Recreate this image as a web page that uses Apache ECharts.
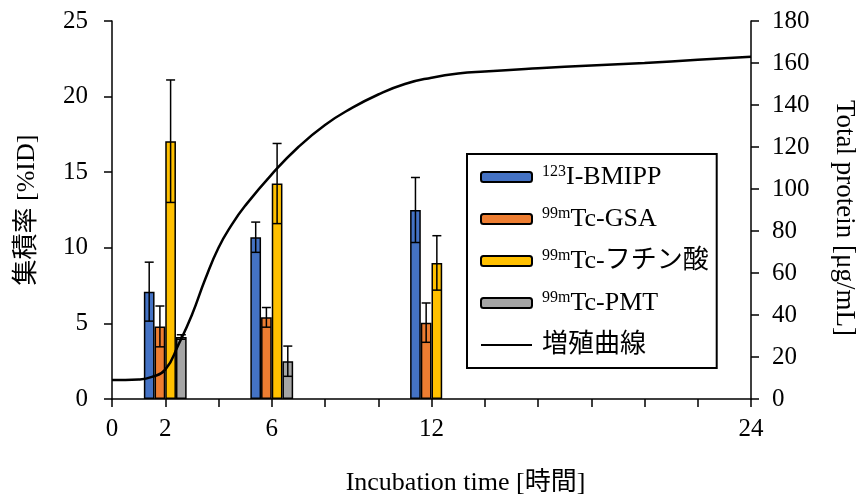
<!DOCTYPE html>
<html>
<head>
<meta charset="utf-8">
<script src="https://cdn.jsdelivr.net/npm/echarts@6/dist/echarts.min.js"></script>
<style>
html, body { margin: 0; padding: 0; background: #fff; }
#chart { width: 860px; height: 497px; }
</style>
</head>
<body>
<div id="chart"></div>
<script>
// 集積率（棒）と増殖曲線（線）
var times = [2, 6, 12]
var seriesNames = ['123I-BMIPP', '99mTc-GSA', '99mTc-フチン酸', '99mTc-PMT']
var bmipp = [7.1, 10.7, 12.5]
var bmippErr = [1.95, 1.0, 2.15]
var gsa = [4.8, 5.4, 5.05]
var gsaErr = [1.35, 0.65, 1.3]
var phytate = [17.05, 14.25, 9.0]
var phytateErr = [4.05, 2.65, 1.8]
var pmt = [4.1, 2.5, null]
var pmtErr = [0.15, 1.0, null]

var curveTimes = [0, 1, 1.5, 2, 2.5, 3, 3.5, 4, 4.5, 5, 6, 7, 8, 9, 10, 11, 12, 13, 14, 16, 18, 20, 22, 24]
var curveValues = [9, 9.3, 10.5, 14, 26, 40, 57, 72, 83, 92, 107, 120, 130.5, 138.5, 145, 150, 153, 155, 156, 157.5, 158.8, 160, 161.5, 163]

var xLabels = [0, 2, 6, 12, 24]

var colors = ['#4472C4', '#ED7D31', '#FFC000', '#A5A5A5']
var values = [bmipp, gsa, phytate, pmt]
var errors = [bmippErr, gsaErr, phytateErr, pmtErr]
var barW = 10.7
var font = "'Liberation Serif', 'Noto Sans CJK JP', serif"

var legendText = {
    '123I-BMIPP': '{sup|123}I-BMIPP',
    '99mTc-GSA': '{sup|99m}Tc-GSA',
    '99mTc-フチン酸': '{sup|99m}Tc-フチン酸',
    '99mTc-PMT': '{sup|99m}Tc-PMT',
    '増殖曲線': '増殖曲線'
}

var series = []
for (let i = 0; i < 4; i++) {
    let data = []
    for (let j = 0; j < times.length; j++) {
        data.push([times[j], values[i][j]])
    }
    series.push({
        name: seriesNames[i],
        type: 'bar',
        barWidth: barW,
        barGap: '0%',
        itemStyle: {
            color: colors[i],
            borderColor: '#000',
            borderWidth: 1.5
        },
        data: data
    })
}

// 誤差棒
var errData = []
for (let i = 0; i < 4; i++) {
    for (let j = 0; j < times.length; j++) {
        if (values[i][j] == null) continue
        errData.push([times[j], values[i][j] - errors[i][j], values[i][j] + errors[i][j], i])
    }
}
series.push({
    type: 'custom',
    name: 'err',
    z: 5,
    silent: true,
    data: errData,
    encode: { x: 0, y: [1, 2] },
    renderItem: function (params, api) {
        let off = (api.value(3) - 1.5) * barW
        let lo = api.coord([api.value(0), api.value(1)])
        let hi = api.coord([api.value(0), api.value(2)])
        let x = lo[0] + off
        let hw = 4.5
        let st = { stroke: '#000', lineWidth: 1.5 }
        return {
            type: 'group',
            children: [
                { type: 'line', shape: { x1: x, y1: lo[1], x2: x, y2: hi[1] }, style: st },
                { type: 'line', shape: { x1: x - hw, y1: hi[1], x2: x + hw, y2: hi[1] }, style: st },
                { type: 'line', shape: { x1: x - hw, y1: lo[1], x2: x + hw, y2: lo[1] }, style: st }
            ]
        }
    }
})

var curveData = []
for (let k = 0; k < curveTimes.length; k++) {
    curveData.push([curveTimes[k], curveValues[k]])
}
series.push({
    name: '増殖曲線',
    type: 'line',
    yAxisIndex: 1,
    z: 10,
    smooth: 0.5,
    symbol: 'none',
    lineStyle: { color: '#000', width: 2.5 },
    itemStyle: { color: '#000' },
    data: curveData
})

var axisLine = { show: true, lineStyle: { color: '#000', width: 1.5 } }
var axisTick = { show: true, inside: false, length: 8, lineStyle: { color: '#000', width: 1.5 } }
var labelStyle = { color: '#000', fontFamily: font, fontSize: 25 }

var option = {
    animation: false,
    backgroundColor: '#fff',
    grid: { left: 112, right: 109, top: 21, bottom: 98, outerBoundsMode: 'none' },
    legend: {
        data: seriesNames.concat([{
            name: '増殖曲線',
            itemStyle: { opacity: 0 },
            lineStyle: { width: 2 }
        }]),
        orient: 'vertical',
        left: 467,
        top: 154,
        padding: [10, 8, 10, 13],
        itemWidth: 51,
        itemHeight: 10,
        itemGap: 16,
        borderColor: '#000',
        borderWidth: 2,
        formatter: function (name) {
            return legendText[name]
        },
        textStyle: {
            color: '#000',
            fontFamily: font,
            fontSize: 26,
            padding: [0, 0, 0, 5],
            rich: {
                sup: { fontSize: 16, fontFamily: font, color: '#000', padding: [0, 0, 10, 0] }
            }
        }
    },
    xAxis: {
        type: 'value',
        min: 0,
        max: 24,
        interval: 2,
        name: 'Incubation time [時間]',
        nameLocation: 'middle',
        nameGap: 71,
        nameTextStyle: { color: '#000', fontFamily: font, fontSize: 26, padding: [0, 0, 0, 68] },
        axisLine: axisLine,
        axisTick: axisTick,
        splitLine: { show: false },
        axisLabel: Object.assign({
            margin: 18,
            formatter: function (v) {
                return xLabels.indexOf(v) >= 0 ? String(v) : ''
            }
        }, labelStyle)
    },
    yAxis: [{
            type: 'value',
            min: 0,
            max: 25,
            interval: 5,
            name: '集積率 [%ID]',
            nameLocation: 'middle',
            nameGap: 72,
            nameRotate: 90,
            nameTextStyle: { color: '#000', fontFamily: font, fontSize: 26 },
            axisLine: axisLine,
            axisTick: axisTick,
            splitLine: { show: false },
            axisLabel: Object.assign({ margin: 24 }, labelStyle)
        },
        {
            type: 'value',
            position: 'right',
            min: 0,
            max: 180,
            interval: 20,
            name: 'Total protein [μg/mL]',
            nameLocation: 'middle',
            nameGap: 80,
            nameRotate: -90,
            nameTextStyle: { color: '#000', fontFamily: font, fontSize: 27, padding: [0, 0, 0, 16] },
            axisLine: axisLine,
            axisTick: axisTick,
            splitLine: { show: false },
            axisLabel: Object.assign({ margin: 21 }, labelStyle)
        }
    ],
    series: series
}

var myChart = echarts.init(document.getElementById('chart'))
myChart.setOption(option)
</script>
</body>
</html>
